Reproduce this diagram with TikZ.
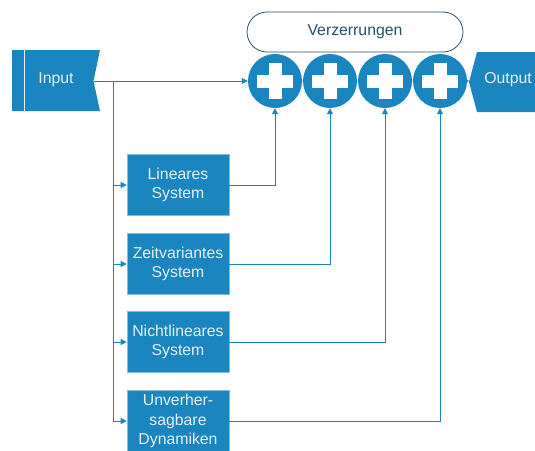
\documentclass[tikz,border=0pt]{standalone}
\usepackage{fontspec}
\setmainfont{Liberation Sans}
\usetikzlibrary{arrows.meta,calc}
\definecolor{boxblue}{RGB}{26,133,190}
\definecolor{boxtext}{RGB}{230,240,248}
\definecolor{labelblue}{RGB}{38,80,108}
\tikzstyle{sysbox}=[fill=boxblue,draw=boxblue!55!white,line width=0.6pt,minimum width=102pt,minimum height=61pt,inner sep=0pt,align=center,text=boxtext,font=\fontsize{15.8}{19.5}\selectfont]
\tikzstyle{iotext}=[inner sep=0pt,text=boxtext,font=\fontsize{15.8}{17}\selectfont]
\tikzstyle{sum}=[circle,fill=boxblue,minimum size=54pt,inner sep=0pt,
  path picture={\fill[white] ($(path picture bounding box.center)+(-18pt,-6.5pt)$) rectangle ($(path picture bounding box.center)+(18pt,6.5pt)$);
    \fill[white] ($(path picture bounding box.center)+(-6.5pt,-18pt)$) rectangle ($(path picture bounding box.center)+(6.5pt,18pt)$);}]
\tikzstyle{signal}=[draw=boxblue,line width=0.8pt]
\tikzstyle{arrowsignal}=[signal,-{Triangle[length=6pt,width=6pt]}]
\tikzstyle{smallarrow}=[signal,-{Triangle[length=3.5pt,width=4pt]}]

\begin{document}
\begin{tikzpicture}[x=1pt,y=-1pt]
  \clip (0,0) rectangle (535,450);

  % Input und Output
  \fill[boxblue] (12,50) -- (100,50) -- (93.5,81) -- (100,111) -- (12,111) -- cycle;
  \draw[boxtext,line width=0.8pt] (24,50) -- (24,111);
  \coordinate (innotch) at (93.5,81);
  \node[iotext] (in) at (56,80) {Input};

  \fill[boxblue] (477,52) -- (545,52) -- (545,112) -- (477,112) -- (469,82) -- cycle;
  \coordinate (outtip) at (469,81);
  \node[iotext] (out) at (508,80) {Output};

  % Verzerrungen
  \node[draw=labelblue,fill=white,line width=0.8pt,rounded corners=20pt,minimum width=216pt,minimum height=40pt,
        text=labelblue,font=\fontsize{15.8}{17}\selectfont] (verz) at (355,32) {Verzerrungen};

  % Summationsstellen
  \foreach \pos/ \name in {{(275,81)/s1},{(330,81)/s2},{(385,81)/s3},{(440,81)/s4}}
    \node[sum] (\name) at \pos {};

  % Teilsysteme
  \foreach \pos/ \name/ \text in {{(178,185)/lin/{Lineares\\System}},{(178,264)/zeit/{Zeitvariantes\\System}},
      {(178,342)/nicht/{Nichtlineares\\System}},{(178,421)/unver/{Unverher-\\sagbare\\Dynamiken}}}
    \node[sysbox,minimum height=61pt] (\name) at \pos {\text};

  % Signalwege
  \draw[arrowsignal] (innotch) -- (s1.west);
  \coordinate (tap) at (113,81);
  \draw[signal] (tap) -- (tap |- unver.west);
  \foreach \dest in {lin,zeit,nicht,unver}
    \draw[arrowsignal] (tap |- \dest.west) -- (\dest.west);

  \foreach \source/ \dest in {lin/s1,zeit/s2,nicht/s3,unver/s4}
    \draw[arrowsignal] (\source.east) -| (\dest.south);

  \foreach \source/ \dest in {s1/s2,s2/s3,s3/s4}
    \draw[smallarrow] ($(\source.east)+(-3,0)$) -- (\dest.west);
  \draw[smallarrow] ($(s4.east)+(-3,0)$) -- (outtip);
\end{tikzpicture}
\end{document}
